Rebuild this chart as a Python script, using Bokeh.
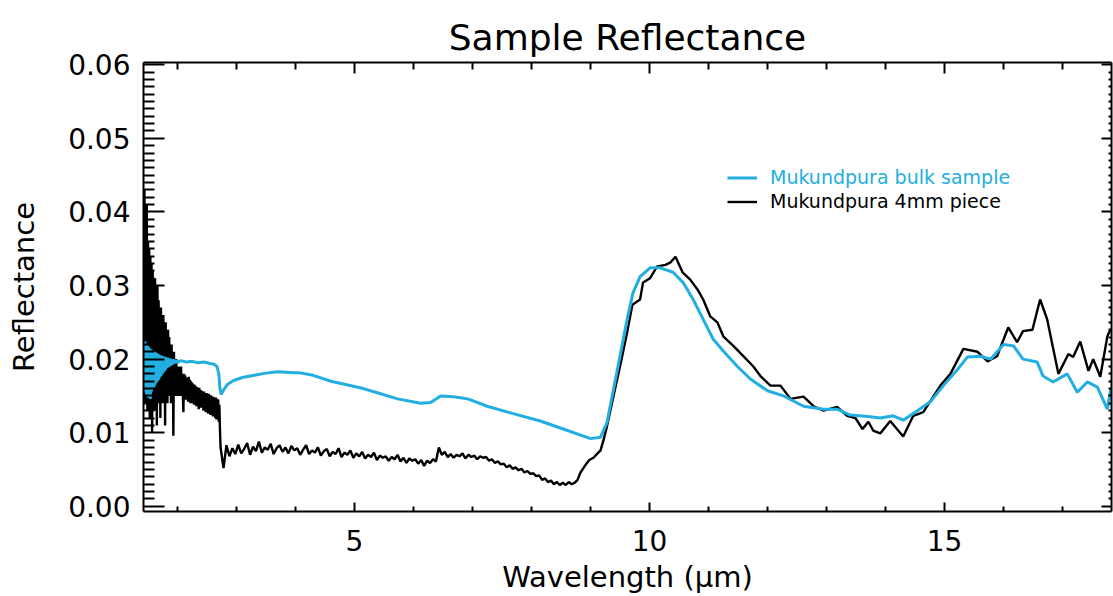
import numpy as np
from bokeh.plotting import figure
from bokeh.models import (LinearAxis, FixedTicker, Legend, LegendItem, Range1d,
                          PrintfTickFormatter)
from bokeh.embed import file_html
from bokeh.resources import INLINE

# ---------------- data ----------------
BLUE = "#22aee0"

# Mukundpura bulk sample: noisy start, 1.42 .. 2.00 um (0.01 um sampling)
bulk_noise_y = [0.0180, 0.0222, 0.0160, 0.0224, 0.0155, 0.0220, 0.0150, 0.0218, 0.0148,
                0.0216, 0.0152, 0.0214, 0.0146, 0.0213, 0.0156, 0.0212, 0.0160, 0.0211, 0.0162,
                0.0210, 0.0165, 0.0209, 0.0168, 0.0208, 0.0170, 0.0207, 0.0172, 0.0206, 0.0175,
                0.0205, 0.0177, 0.0205, 0.0180, 0.0204, 0.0182, 0.0203, 0.0184, 0.0203, 0.0186,
                0.0202, 0.0188, 0.0202, 0.0189, 0.0201, 0.0190, 0.0201, 0.0191, 0.0200, 0.0192,
                0.0200, 0.0193, 0.0200, 0.0194, 0.0199, 0.0194, 0.0199, 0.0195, 0.0198, 0.0195]
bulk_noise_x = np.linspace(1.42, 2.00, len(bulk_noise_y))

bulk_x = [2.05, 2.15, 2.25, 2.35, 2.45, 2.55, 2.62, 2.67, 2.70, 2.72, 2.74, 2.78, 2.85, 2.95,
          3.10, 3.30, 3.50, 3.70, 3.90, 4.10, 4.30, 4.60, 5.15, 5.40, 5.73, 6.12, 6.29, 6.46,
          6.68, 6.92, 7.25, 7.69, 8.15, 8.61, 9.00, 9.17, 9.28, 9.39, 9.50, 9.62, 9.72, 9.84,
          10.01, 10.18, 10.40, 10.57, 10.74, 10.91, 11.08, 11.25, 11.49, 11.71, 12.00, 12.27,
          12.61, 12.95, 13.18, 13.40, 13.70, 13.91, 14.13, 14.30, 14.54, 14.76, 14.98, 15.22,
          15.39, 15.61, 15.78, 16.00, 16.17, 16.33, 16.57, 16.67, 16.84, 17.08, 17.25, 17.42,
          17.59, 17.76, 17.82]
bulk_y = [0.0198, 0.0196, 0.0197, 0.0195, 0.0196, 0.0194, 0.0193, 0.0190, 0.0180, 0.0160,
          0.0152, 0.0158, 0.0166, 0.0171, 0.0175, 0.0178, 0.0181, 0.0183, 0.0182, 0.0181,
          0.0178, 0.0170, 0.0160, 0.0154, 0.0146, 0.0140, 0.0141, 0.0150, 0.0149, 0.0146,
          0.0136, 0.0126, 0.0116, 0.0103, 0.0092, 0.0094, 0.0114, 0.0159, 0.0204, 0.0254,
          0.0290, 0.0312, 0.0324, 0.0324, 0.0318, 0.0304, 0.0281, 0.0254, 0.0227, 0.0211,
          0.0190, 0.0173, 0.0157, 0.0150, 0.0136, 0.0132, 0.0132, 0.0124, 0.0122, 0.0120,
          0.0123, 0.0117, 0.0130, 0.0142, 0.0164, 0.0186, 0.0203, 0.0204, 0.0200, 0.0220,
          0.0218, 0.0200, 0.0196, 0.0177, 0.0169, 0.0180, 0.0155, 0.0169, 0.0162, 0.0132,
          0.0160]

# Mukundpura 4mm piece: very noisy start, 1.42 .. 2.72 um (0.01 um sampling)
piece_noise1_y = [0.030, 0.015, 0.043, 0.014, 0.038, 0.016, 0.041, 0.013, 0.036,
                  0.015, 0.035, 0.012, 0.034, 0.016, 0.033, 0.010, 0.032, 0.014, 0.031,
                  0.013, 0.031, 0.015, 0.029, 0.011, 0.030, 0.014, 0.028, 0.016, 0.027,
                  0.012, 0.027, 0.015, 0.026, 0.014, 0.026, 0.016, 0.025, 0.011, 0.025,
                  0.015, 0.024, 0.014, 0.024, 0.016, 0.023, 0.015, 0.022, 0.014, 0.022,
                  0.016, 0.021, 0.0096, 0.021, 0.015, 0.020, 0.016, 0.020, 0.015, 0.019,
                  0.0165, 0.019, 0.015, 0.0185, 0.016, 0.019, 0.015, 0.018, 0.0155, 0.0128,
                  0.018, 0.015, 0.0178, 0.0145, 0.0175, 0.015, 0.017, 0.0142, 0.0176, 0.0148,
                  0.0172, 0.014, 0.017, 0.0145, 0.0168, 0.014, 0.0166, 0.0138, 0.0165, 0.0142,
                  0.0163, 0.0136, 0.0162, 0.014, 0.016, 0.0132, 0.0161, 0.0138, 0.0158, 0.0134,
                  0.0157, 0.0136, 0.0155, 0.013, 0.0156, 0.0134, 0.0153, 0.0128, 0.0154, 0.0132,
                  0.0152, 0.0126, 0.0153, 0.013, 0.015, 0.0124, 0.0151, 0.0128, 0.0148, 0.0122,
                  0.0149, 0.0125, 0.0147, 0.012, 0.0148, 0.0118, 0.0146, 0.0121, 0.0145, 0.0115,
                  0.0138, 0.0105]
piece_noise1_x = np.linspace(1.42, 2.72, len(piece_noise1_y))

# 4mm piece, 2.73 .. 8.98 um (0.05 um sampling)
piece_noise2_y = [0.0080, 0.0052, 0.0083, 0.0068, 0.0079, 0.0071,
                  0.0084, 0.0072, 0.0078, 0.0086, 0.0070, 0.0081, 0.0075, 0.0088, 0.0073, 0.0080,
                  0.0077, 0.0085, 0.0071, 0.0079, 0.0083, 0.0074, 0.0080, 0.0072, 0.0082, 0.0076,
                  0.0079, 0.0070, 0.0077, 0.0083, 0.0071, 0.0076, 0.0073, 0.0080, 0.0069, 0.0075,
                  0.0078, 0.0068, 0.0074, 0.0071, 0.0079, 0.0067, 0.0073, 0.0070, 0.0076, 0.0066,
                  0.0072, 0.0068, 0.0074, 0.0065, 0.0070, 0.0067, 0.0073, 0.0063, 0.0069, 0.0066,
                  0.0068, 0.0062, 0.0067, 0.0064, 0.0070, 0.0061, 0.0066, 0.0059, 0.0065, 0.0062,
                  0.0064, 0.0058, 0.0063, 0.0055, 0.0062, 0.0059, 0.0064, 0.0061, 0.0080, 0.0070,
                  0.0074, 0.0067, 0.0071, 0.0066, 0.0070, 0.0068, 0.0072, 0.0065, 0.0070, 0.0067,
                  0.0069, 0.0064, 0.0068, 0.0066, 0.0067, 0.0062, 0.0064, 0.0059, 0.0061, 0.0057,
                  0.0058, 0.0053, 0.0056, 0.0051, 0.0053, 0.0049, 0.0051, 0.0046, 0.0048, 0.0044,
                  0.0045, 0.0041, 0.0042, 0.0036, 0.0038, 0.0033, 0.0035, 0.0030, 0.0033, 0.0029,
                  0.0032, 0.0029, 0.0033, 0.0030, 0.0032, 0.0036, 0.0046, 0.0052, 0.0058, 0.0063]
piece_noise2_x = np.linspace(2.73, 8.98, len(piece_noise2_y))

piece_x = [9.05, 9.12, 9.17, 9.22, 9.28, 9.39, 9.50, 9.62, 9.71, 9.84, 9.89, 10.01, 10.13,
           10.27, 10.35, 10.44, 10.56, 10.69, 10.81, 10.91, 11.03, 11.15, 11.25, 11.42, 11.59,
           11.76, 11.88, 12.05, 12.22, 12.39, 12.61, 12.78, 12.95, 13.18, 13.35, 13.49, 13.61,
           13.71, 13.79, 13.91, 14.08, 14.30, 14.47, 14.64, 14.76, 14.93, 15.10, 15.32, 15.56,
           15.73, 15.89, 16.08, 16.23, 16.33, 16.49, 16.62, 16.74, 16.93, 17.10, 17.18, 17.30,
           17.44, 17.52, 17.64, 17.76, 17.81]
piece_y = [0.0066, 0.0072, 0.0076, 0.0090, 0.0109, 0.0150, 0.0190, 0.0236, 0.0274, 0.0281,
           0.0304, 0.0310, 0.0326, 0.0328, 0.0331, 0.0339, 0.0318, 0.0308, 0.0295, 0.0281,
           0.0258, 0.0250, 0.0231, 0.0218, 0.0204, 0.0190, 0.0177, 0.0164, 0.0164, 0.0146,
           0.0149, 0.0136, 0.0130, 0.0135, 0.0123, 0.0120, 0.0105, 0.0115, 0.0103, 0.0099,
           0.0116, 0.0095, 0.0123, 0.0128, 0.0143, 0.0164, 0.0180, 0.0214, 0.0210, 0.0197,
           0.0204, 0.0243, 0.0223, 0.0238, 0.0240, 0.0281, 0.0254, 0.0180, 0.0207, 0.0203,
           0.0224, 0.0184, 0.0200, 0.0176, 0.0231, 0.0240]

x_major = [5, 10, 15]
x_minor = [2, 3, 4, 6, 7, 8, 9, 11, 12, 13, 14, 16, 17]
y_major = [0.0, 0.01, 0.02, 0.03, 0.04, 0.05, 0.06]
y_minor = [round(i * 0.001, 3) for i in range(0, 61) if i % 10 != 0]

bulk_all_x = list(bulk_noise_x) + bulk_x
bulk_all_y = bulk_noise_y + bulk_y
piece_all_x = list(piece_noise1_x) + list(piece_noise2_x) + piece_x
piece_all_y = piece_noise1_y + piece_noise2_y + piece_y

# ---------------- figure ----------------
FONT = "DejaVu Sans"
p = figure(width=1113, height=596, output_backend="svg", toolbar_location=None,
           x_range=Range1d(1.424, 17.83), y_range=Range1d(-0.0007, 0.0603),
           min_border_left=143, min_border_right=2, min_border_top=62,
           min_border_bottom=83)
p.outline_line_color = None
p.xgrid.visible = False
p.ygrid.visible = False
p.background_fill_color = "white"
p.border_fill_color = "white"

p.title.text = "Sample Reflectance"
p.title.align = "center"
p.title.text_font = FONT
p.title.text_font_size = "36px"
p.title.text_font_style = "normal"
p.title.text_color = "black"

r_piece = p.line(piece_all_x, piece_all_y, line_color="black", line_width=2.4)
r_bulk = p.line(bulk_all_x, bulk_all_y, line_color=BLUE, line_width=3)


def style_axis(ax, tin, mtin, labels=True):
    ax.axis_line_width = 2
    ax.axis_line_color = "black"
    ax.major_tick_in = tin
    ax.major_tick_out = 0
    ax.minor_tick_in = mtin
    ax.minor_tick_out = 0
    ax.major_tick_line_width = 2
    ax.minor_tick_line_width = 2
    ax.major_tick_line_color = "black"
    ax.minor_tick_line_color = "black"
    if labels:
        ax.major_label_text_font = FONT
        ax.major_label_text_font_size = "28px"
        ax.major_label_text_color = "black"
        ax.major_label_text_line_height = 1.0
        ax.axis_label_text_font = FONT
        ax.axis_label_text_font_size = "29px"
        ax.axis_label_text_font_style = "normal"
        ax.axis_label_text_color = "black"
        ax.axis_label_text_line_height = 1.0
    else:
        ax.major_label_text_font_size = "0px"
        ax.major_label_standoff = 0


xa = p.xaxis[0]
xa.ticker = FixedTicker(ticks=x_major, minor_ticks=x_minor)
xa.axis_label = "Wavelength (\u03bcm)"
style_axis(xa, 9, 5)
xa.major_label_standoff = 18
xa.axis_label_standoff = 6

ya = p.yaxis[0]
ya.ticker = FixedTicker(ticks=y_major, minor_ticks=y_minor)
ya.formatter = PrintfTickFormatter(format="%.2f")
ya.axis_label = "Reflectance"
style_axis(ya, 21, 11)
ya.major_label_standoff = 13
ya.axis_label_standoff = 24

top = LinearAxis(ticker=FixedTicker(ticks=x_major, minor_ticks=x_minor))
style_axis(top, 11, 7, labels=False)
p.add_layout(top, "above")

right = LinearAxis(ticker=FixedTicker(ticks=y_major, minor_ticks=y_minor))
style_axis(right, 10, 3, labels=False)
p.add_layout(right, "right")

# legends (one per series so that each label has its own colour)
for r, lab, col, yloc in [(r_bulk, "Mukundpura bulk sample", BLUE, 323),
                          (r_piece, "Mukundpura 4mm piece", "black", 299)]:
    lg = Legend(items=[LegendItem(label=lab, renderers=[r])], location=(584, yloc),
                background_fill_alpha=0, border_line_color=None, padding=0, margin=0,
                spacing=0, glyph_width=30, glyph_height=19, label_height=19,
                label_standoff=13, label_text_font=FONT, label_text_font_size="19px",
                label_text_line_height=1.0, label_text_color=col)
    p.add_layout(lg, "center")

open("out.html", "w").write(file_html(p, INLINE))
